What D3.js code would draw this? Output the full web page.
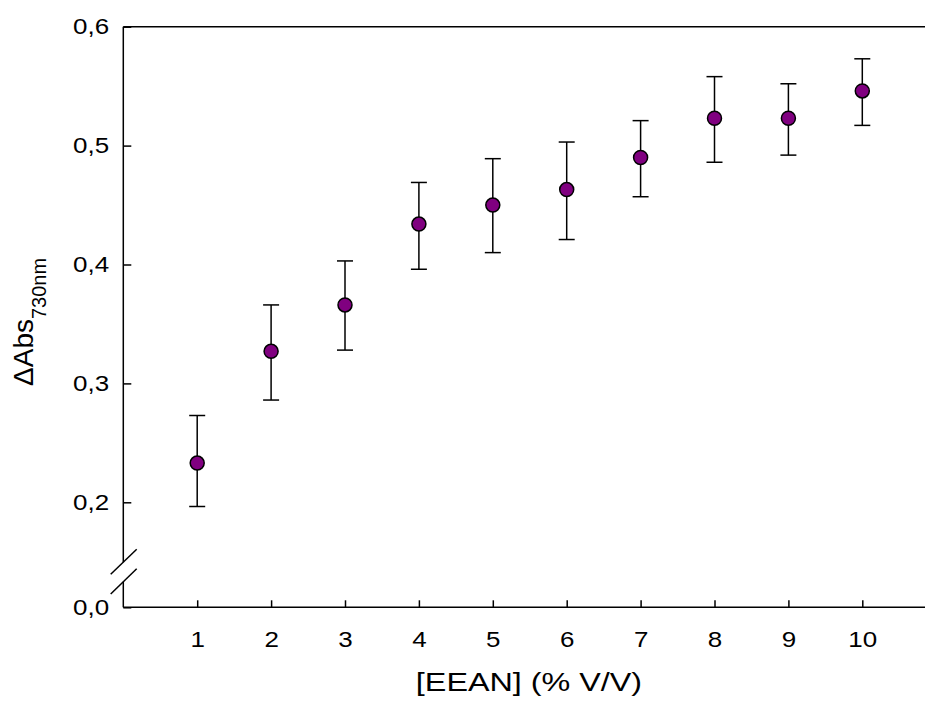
<!DOCTYPE html>
<html>
<head>
<meta charset="utf-8">
<script src="https://cdn.jsdelivr.net/npm/d3@7"></script>
<style>
  body { margin: 0; background: #fff; }
  svg { display: block; font-family: "Liberation Sans", Arial, sans-serif; }
</style>
</head>
<body>
<svg id="chart" width="925" height="706"></svg>
<script>
// data
var conc = [1, 2, 3, 4, 5, 6, 7, 8, 9, 10]
var absMean = [0.233, 0.327, 0.366, 0.434, 0.450, 0.463, 0.490, 0.523, 0.523, 0.546]
var absLow = [0.192, 0.286, 0.328, 0.396, 0.410, 0.421, 0.457, 0.486, 0.492, 0.517]
var absHigh = [0.273, 0.366, 0.403, 0.469, 0.489, 0.503, 0.521, 0.558, 0.552, 0.573]
var yTicks = [0, 0.2, 0.3, 0.4, 0.5, 0.6]
var xTicks = [1, 2, 3, 4, 5, 6, 7, 8, 9, 10]

var svg = d3.select("#chart")
var plotL = 123.3, plotR = 925, plotT = 26.7, plotB = 607.3
var sx = 1.18 // the reference text is drawn a little wide

var x = d3.scaleLinear().domain([0, 10]).range([plotL, 862.3])
// broken y axis: 0 then jump to 0.2
var y = d3.scaleLinear().domain([0, 0.2, 0.6]).range([plotB, 502.3, plotT])

var fmt = function(d){ return d3.format(".1f")(d).replace(".", ",") }

var xAxis = d3.axisBottom(x).tickValues(xTicks).tickSizeInner(-7).tickSizeOuter(0).tickPadding(24)
var gx = svg.append("g").attr("transform", "translate(0," + plotB + ")").call(xAxis)
gx.attr("font-size", 22).attr("font-family", "Liberation Sans, Arial, sans-serif")
gx.select(".domain").remove()
gx.selectAll(".tick line").attr("stroke", "#000").attr("stroke-width", 1.5)
gx.selectAll(".tick text").attr("fill", "#000").attr("transform", "scale(" + sx + ",1)")

var yAxis = d3.axisLeft(y).tickValues(yTicks).tickFormat(fmt).tickSizeInner(-8).tickSizeOuter(0).tickPadding(12)
var gy = svg.append("g").attr("transform", "translate(" + plotL + ",0)").call(yAxis)
gy.attr("font-size", 22).attr("font-family", "Liberation Sans, Arial, sans-serif")
gy.select(".domain").remove()
gy.selectAll(".tick line").attr("stroke", "#000").attr("stroke-width", 1.5)
gy.selectAll(".tick text").attr("fill", "#000").attr("transform", "scale(" + sx + ",1)")

// frame lines
var frame = svg.append("g").attr("stroke", "#000").attr("stroke-width", 1.5).attr("fill", "none")
frame.append("line").attr("x1", plotL).attr("x2", plotR).attr("y1", plotT).attr("y2", plotT)
frame.append("line").attr("x1", plotL).attr("x2", plotR).attr("y1", plotB).attr("y2", plotB)
frame.append("line").attr("x1", plotL).attr("x2", plotL).attr("y1", plotT).attr("y2", plotB - 45)
frame.append("line").attr("x1", plotL).attr("x2", plotL).attr("y1", plotB - 25.5).attr("y2", plotB)
// break marks
frame.append("line").attr("x1", plotL - 12.6).attr("y1", plotB - 33).attr("x2", plotL + 13.4).attr("y2", plotB - 58)
frame.append("line").attr("x1", plotL - 12.6).attr("y1", plotB - 13.3).attr("x2", plotL + 13.4).attr("y2", plotB - 38.6)

// error bars
var bars = svg.append("g").attr("stroke", "#000").attr("stroke-width", 1.5)
conc.forEach(function(c, i){
  var cx = x(c)
  bars.append("line").attr("x1", cx).attr("x2", cx).attr("y1", y(absLow[i])).attr("y2", y(absHigh[i]))
  bars.append("line").attr("x1", cx - 8).attr("x2", cx + 8).attr("y1", y(absLow[i])).attr("y2", y(absLow[i]))
  bars.append("line").attr("x1", cx - 8).attr("x2", cx + 8).attr("y1", y(absHigh[i])).attr("y2", y(absHigh[i]))
})

svg.append("g").selectAll("circle").data(conc).enter().append("circle")
  .attr("cx", function(d){ return x(d) })
  .attr("cy", function(d, i){ return y(absMean[i]) })
  .attr("r", 7)
  .attr("fill", "#800080")
  .attr("stroke", "#000")
  .attr("stroke-width", 1.5)

// axis titles
svg.append("text").attr("transform", "translate(529,691) scale(1.22,1)").attr("text-anchor", "middle")
  .attr("font-size", 26.5).attr("fill", "#000").text("[EEAN] (% V/V)")

var yt = svg.append("text").attr("transform", "translate(33,386) rotate(-90)")
  .attr("font-size", 28).attr("fill", "#000")
yt.append("tspan").text("\u0394Abs")
yt.append("tspan").attr("font-size", 20).attr("dy", 13).text("730nm")
</script>
</body>
</html>
